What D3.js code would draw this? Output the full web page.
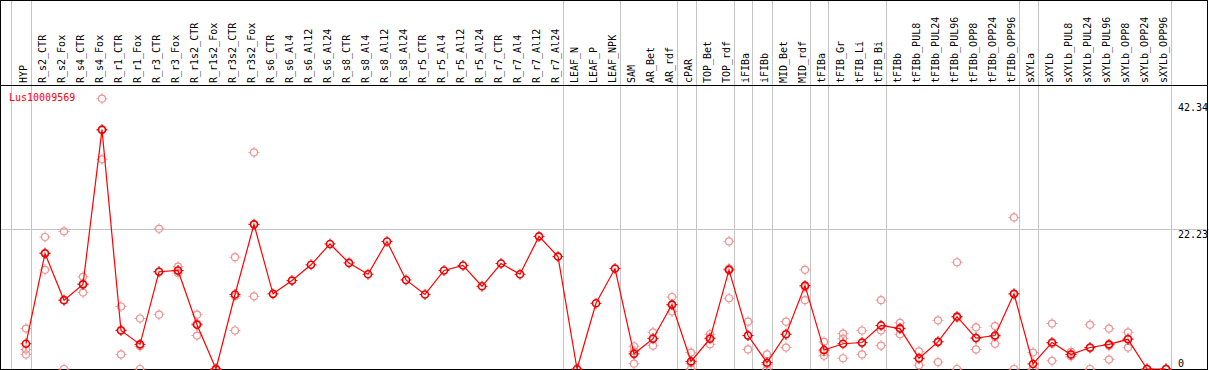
<!DOCTYPE html>
<html><head><meta charset="utf-8">
<script src="https://cdn.jsdelivr.net/npm/d3@7"></script>
<style>
html,body{margin:0;padding:0;background:#fff;}
svg{display:block;}
text{font-family:"DejaVu Sans Mono",monospace;font-size:10px;}
</style></head>
<body><svg id="c" width="1209" height="370"></svg>
<script>
const geneName = "Lus10009569";
const categories = ["HYP","R_s2_CTR","R_s2_Fox","R_s4_CTR","R_s4_Fox","R_r1_CTR","R_r1_Fox","R_r3_CTR","R_r3_Fox","R_r1s2_CTR","R_r1s2_Fox","R_r3s2_CTR","R_r3s2_Fox","R_s6_CTR","R_s6_Al4","R_s6_Al12","R_s6_Al24","R_s8_CTR","R_s8_Al4","R_s8_Al12","R_s8_Al24","R_r5_CTR","R_r5_Al4","R_r5_Al12","R_r5_Al24","R_r7_CTR","R_r7_Al4","R_r7_Al12","R_r7_Al24","LEAF_N","LEAF_P","LEAF_NPK","SAM","AR_Bet","AR_rdf","cPAR","TOP_Bet","TOP_rdf","iFIBa","iFIBb","MID_Bet","MID_rdf","tFIBa","tFIB_Gr","tFIB_Li","tFIB_Bi","tFIBb","tFIBb_PUL8","tFIBb_PUL24","tFIBb_PUL96","tFIBb_OPP8","tFIBb_OPP24","tFIBb_OPP96","sXYLa","sXYLb","sXYLb_PUL8","sXYLb_PUL24","sXYLb_PUL96","sXYLb_OPP8","sXYLb_OPP24","sXYLb_OPP96"];
const meanValues = [4.0,18.3,10.9,13.4,37.9,6.1,3.9,15.4,15.6,7.0,0,11.8,22.9,11.9,14.0,16.5,19.8,16.8,15.0,20.2,14.1,11.8,15.6,16.4,13.1,16.7,15.0,21.0,17.8,0,10.4,15.9,2.4,4.8,10.2,1.2,4.8,15.7,5.3,1.0,5.5,13.2,3.0,4.0,4.2,6.9,6.4,1.7,4.3,8.3,4.9,5.3,11.9,0.8,4.2,2.3,3.4,3.9,4.7,0,0];
const replicateValues = [
 [6.4,3.1,2.3],[20.9,15.7,18.4],[21.8,0,10.9],[14.6,12.1,13.5],[42.8,33.2,37.8],[9.9,2.3,6.2],[8.0,0,3.6],[22.2,8.6,15.4],[16.2,15.2,15.5],[8.6,5.3,7.2],[0,0,0],[17.7,6.1,11.5],[34.3,11.5,22.9],
 [],[],[],[],[],[],[],[],[],[],[],[],[],[],[],[],[],[],[],
 [3.6,0.85,2.8],[5.8,3.7,4.9],[11.4,9.1,10.1],[2.6,0,0.9],[5.5,3.9,5.0],[20.2,11.2,15.9],[7.5,3.1,5.3],[2.3,0,0.7],[7.5,3.4,5.5],[15.7,10.9,13.0],[4.3,2.1,2.7],[5.6,1.7,4.8],[6.1,2.3,4.1],[10.9,6.1,3.7],
 [7.3,5.5,6.5],[2.8,0.6,1.6],[7.7,1.1,4.3],[16.9,0,8.1],[6.6,3.1,4.9],[6.8,4.0,5.1],[24.0,0,11.9],[2.6,0,0],[7.2,1.3,4.0],[2.7,2.0,2.3],[7.0,0,3.3],[6.4,1.5,3.7],[5.8,3.4,4.8],[0,0,0],[0,0,0]
];
const groupBreaksAfter = ["HYP","R_r7_Al24","LEAF_NPK","AR_rdf","cPAR","TOP_rdf","iFIBa","iFIBb","MID_rdf","tFIBa","tFIB_Bi","tFIBb_OPP96","sXYLa","sXYLb_OPP96"];
const yTickValues = [0,22.23,42.34];
const yTickLabels = ["0","22.23","42.34"];

const W=1209,H=370;
const svg=d3.select("#c");
const x=d3.scaleLinear().domain([0,categories.length-1]).range([26,26+19*(categories.length-1)]);
const y=d3.scaleLinear().domain([0,42.34]).range([369,101.6]);
const grey="#c4c4c4";

// vertical separators
const sepIdx=[-1].concat(groupBreaksAfter.map(g=>categories.indexOf(g)));
svg.append("g").selectAll("line").data(sepIdx).join("line")
  .attr("x1",d=>Math.round(x(d)+4.5)+0.5).attr("x2",d=>Math.round(x(d)+4.5)+0.5)
  .attr("y1",0).attr("y2",H).attr("stroke",grey).attr("stroke-width",1);

// horizontal grid at 22.23
svg.append("line").attr("x1",0).attr("x2",W).attr("y1",Math.round(y(22.23))+0.5).attr("y2",Math.round(y(22.23))+0.5)
  .attr("stroke",grey).attr("stroke-width",1);

// frame
svg.append("rect").attr("x",0.5).attr("y",0.5).attr("width",1207).attr("height",369)
  .attr("fill","none").attr("stroke","#000").attr("stroke-width",1);
svg.append("line").attr("x1",0).attr("x2",1208).attr("y1",85.5).attr("y2",85.5).attr("stroke","#000");

// column labels
svg.append("g").selectAll("text").data(categories).join("text")
  .attr("transform",(d,i)=>`translate(${x(i)+1},83) rotate(-90)`)
  .attr("text-anchor","start").attr("fill","#000").text(d=>d);

// y axis (right)
const axis=d3.axisRight(y).tickValues(yTickValues).tickSize(0).tickPadding(0)
  .tickFormat((d,i)=>yTickLabels[i]);
const ag=svg.append("g").attr("transform","translate(1178,0)").call(axis);
ag.select(".domain").remove();
ag.selectAll("text").attr("fill","#000").attr("font-family","DejaVu Sans Mono").attr("font-size",10)
  .attr("x",0).attr("dy",d=>d===0?"-3px":"8.8px").attr("text-anchor","start");

// gene name
svg.append("text").attr("x",9).attr("y",100.5).attr("fill","#ff0000").text(geneName);

function marker(g,cx,cy,color,sw){
  g.append("circle").attr("cx",cx).attr("cy",cy).attr("r",3.5).attr("fill","none").attr("stroke",color).attr("stroke-width",sw);
  const t=[[0,-1],[0,1],[-1,0],[1,0]];
  t.forEach(([dx,dy])=>{
    g.append("line").attr("x1",cx+dx*3.5).attr("y1",cy+dy*3.5).attr("x2",cx+dx*5.5).attr("y2",cy+dy*5.5)
      .attr("stroke",color).attr("stroke-width",1);
  });
}

// replicates
const rg=svg.append("g");
replicateValues.forEach((reps,i)=>reps.forEach(v=>marker(rg,x(i),y(v),"#ee9494",1.2)));

// mean line
svg.append("path").datum(meanValues)
  .attr("d",d3.line().x((d,i)=>x(i)).y(d=>y(d)))
  .attr("fill","none").attr("stroke","#ff0000").attr("stroke-width",1.2);

const mg=svg.append("g");
meanValues.forEach((v,i)=>marker(mg,x(i),y(v),"#ee0000",1.6));
</script></body></html>
